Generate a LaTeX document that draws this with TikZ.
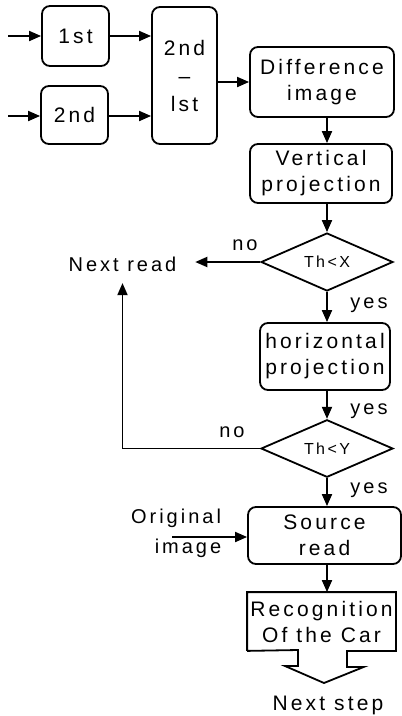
\documentclass[tikz,border=0pt]{standalone}
\usepackage{fontspec}
\setmainfont{Liberation Sans}
\newfontfamily\wfont[LetterSpace=15]{Liberation Sans}
\usetikzlibrary{arrows.meta,shapes.geometric,calc}
\begin{document}
\begin{tikzpicture}[x=1pt,y=-1pt,line width=1.8pt,
  rb/.style={draw,rounded corners=8pt,inner sep=0pt,align=center,font=\wfont\fontsize{21}{26}\selectfont},
  sq/.style={inner sep=0pt,align=center,font=\wfont\fontsize{21}{26}\selectfont},
  dia/.style={draw,diamond,inner sep=0pt,minimum width=132pt,font=\wfont\fontsize{16}{18}\selectfont},
  lab/.style={inner sep=0pt,font=\wfont\fontsize{20}{22}\selectfont},
  txt/.style={inner sep=0pt,font=\wfont\fontsize{20}{22}\selectfont},
  arr/.style={-{Triangle[length=12pt,width=10pt]}}]
\useasboundingbox (0,0) rectangle (402,716);
\node[rb,minimum width=67pt,minimum height=60pt] (first) at (75.5,36) {1st};
\node[rb,minimum width=67pt,minimum height=58pt] (second) at (74.5,115) {2nd};
\node[rb,minimum width=65pt,minimum height=137pt,font=\wfont\fontsize{21}{28}\selectfont] (sub) at (184.5,75.5) {2nd\\–\\lst};
\node[rb,minimum width=144pt,minimum height=70pt] (diff) at (322,82) {Difference\\image};
\node[rb,minimum width=142pt,minimum height=59pt] (vproj) at (321,173.5) {Vertical\\projection};
\node[dia,minimum height=58pt] (d1) at (327,262) {Th<X};
\node[rb,minimum width=130pt,minimum height=67pt] (hproj) at (325,356.5) {horizontal\\projection};
\node[dia,minimum height=57pt] (d2) at (327,448.5) {Th<Y};
\node[rb,minimum width=153pt,minimum height=57pt] (src) at (324.5,535.5) {Source\\read};
\node[sq,minimum width=147pt,minimum height=57pt] (recog) at (321.5,621.5) {Recognition\\Of the Car};
\coordinate (tip) at (324,683);
\draw[line join=miter] (recog.south west) -- (recog.north west) -- (recog.north east) -- (recog.south east)
  -- ++(-49,0) -- ++(0,16) -- ++(17,0) -- (tip) -- (285,666) -- (298,666) -- (298,650) -- (recog.south west);
\node[lab] (no1) at (245,245) {no};
\node[lab] (yes1) at (369,305) {yes};
\node[lab] (yes2) at (369,411) {yes};
\node[lab] (no2) at (232,432) {no};
\node[lab] (yes3) at (369,490) {yes};
\node[txt,anchor=base,inner xsep=18pt,inner ysep=11pt] (nextread) at (122.5,271) {Next read};
\node[txt] (orig1) at (176,518) {Original};
\node[txt] (orig2) at (188,548) {image};
\node[txt,font=\wfont\fontsize{21}{24}\selectfont] (nstep) at (328,705) {Next step};
\coordinate (in1) at (8,36);
\coordinate (in2) at (8,116);
\coordinate (origin) at (172,537);
\draw[arr] (in1) -- (first.west);
\draw[arr] (in2) -- (second.west |- in2);
\draw[arr] (first.east) -- (first.east -| sub.west);
\draw[arr] (second.east |- in2) -- (in2 -| sub.west);
\draw[arr] (sub.east |- diff.west) -- (diff.west);
\draw[arr] (diff.south -| d1.north) -- (vproj.north -| d1.north);
\draw[arr] (vproj.south -| d1.north) -- (d1.north);
\draw[arr] (d1.west) -- (d1.west -| nextread.east);
\draw[arr] (d1.south) -- (hproj.north -| d1.south);
\draw[arr] (hproj.south -| d2.north) -- (d2.north);
\draw[arr] (d2.south) -- (src.north -| d2.south);
\draw[arr] (d2.west) -- (d2.west -| nextread.south) -- (nextread.south);
\draw[arr] (origin) -- (src.west |- origin);
\draw[arr] (src.south -| d2.south) -- (recog.north -| d2.south);
\end{tikzpicture}
\end{document}
